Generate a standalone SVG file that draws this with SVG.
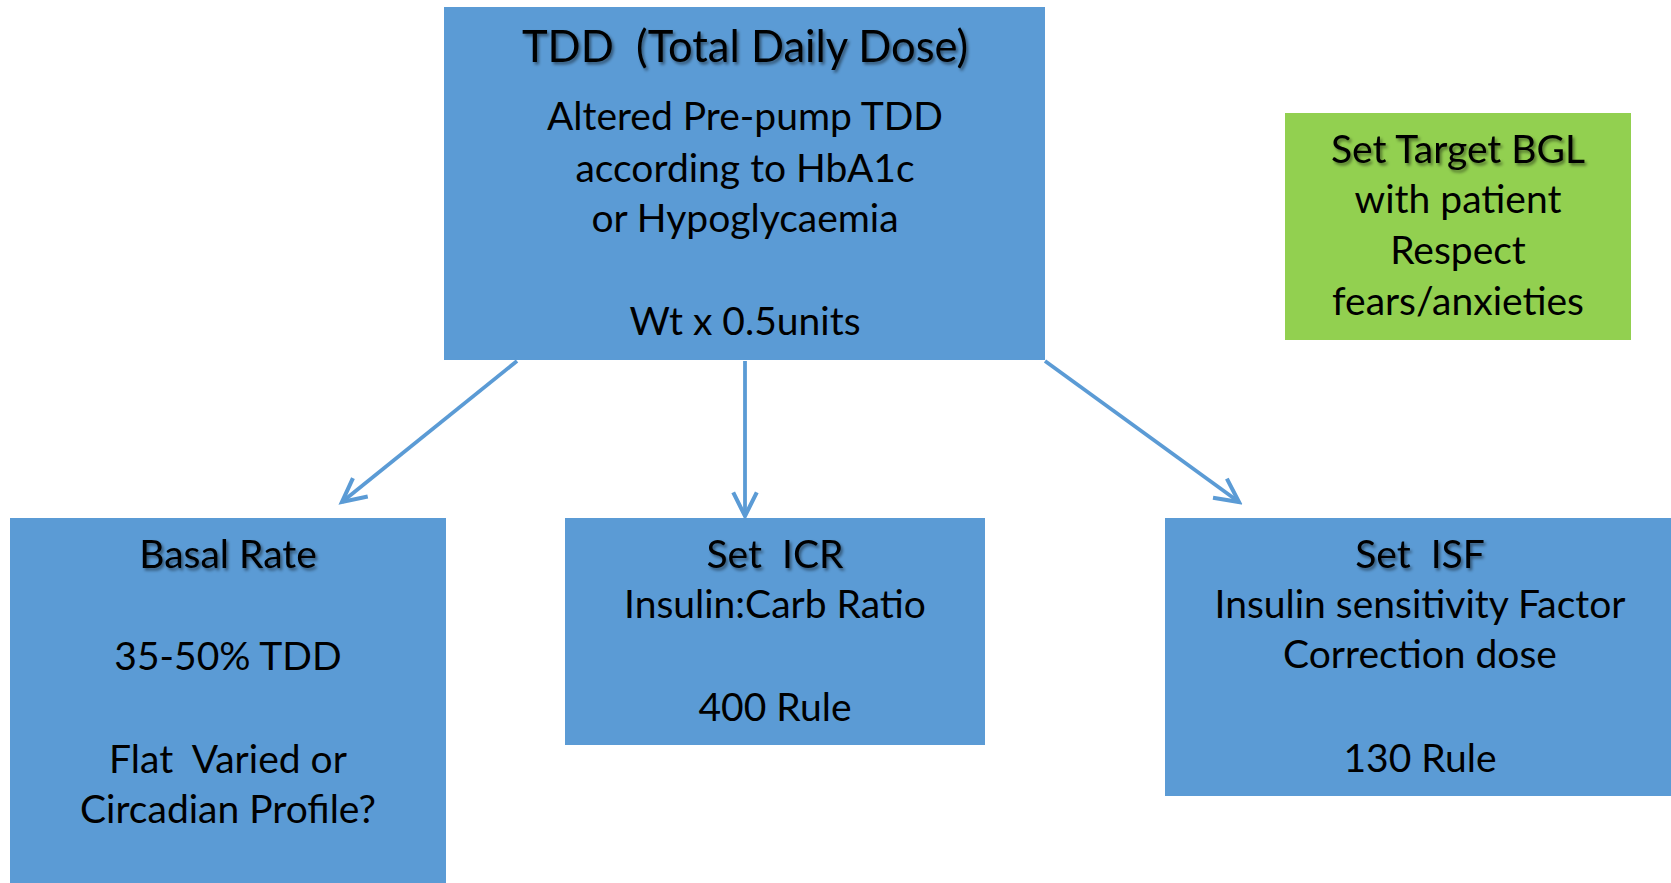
<svg xmlns="http://www.w3.org/2000/svg" width="1671" height="883" viewBox="0 0 1671 883">
<defs>
<filter id="sh" x="-10%" y="-30%" width="120%" height="160%">
<feDropShadow dx="2" dy="2.5" stdDeviation="1.6" flood-color="#000" flood-opacity="0.45"/>
</filter>
<marker id="arr" markerUnits="userSpaceOnUse" markerWidth="30" markerHeight="30" viewBox="-2 -2 28 26" refX="22" refY="11" orient="auto">
<path d="M0,0 L22,11 L0,22" fill="none" stroke="#5B9BD5" stroke-width="3.8" stroke-linejoin="miter"/>
</marker>
</defs>
<style>
.box{fill:#5B9BD5}
.grn{fill:#92D050}
text{font-family:Lato,"Liberation Sans",sans-serif;font-size:39px;fill:#000;text-anchor:middle}
.t{filter:url(#sh)}
.big{font-size:43.5px}
.conn{stroke:#5B9BD5;stroke-width:3.8;fill:none;marker-end:url(#arr)}
</style>
<rect width="1671" height="883" fill="#fff"/>
<g id="tdd">
<rect class="box" x="444" y="7" width="601" height="353"/>
<text class="t big" x="745" y="62" xml:space="preserve">TDD  (Total Daily Dose)</text>
<text x="745" y="130">Altered Pre-pump TDD</text>
<text x="745" y="182">according to HbA1c</text>
<text x="745" y="232">or Hypoglycaemia</text>
<text x="745" y="335">Wt x 0.5units</text>
</g>
<g id="target">
<rect class="grn" x="1285" y="113" width="346" height="227"/>
<text class="t" x="1458" y="163">Set Target BGL</text>
<text x="1458" y="213">with patient</text>
<text x="1458" y="264">Respect</text>
<text x="1458" y="315">fears/anxieties</text>
</g>
<g id="basal">
<rect class="box" x="10" y="518" width="436" height="370"/>
<text class="t" x="228" y="568">Basal Rate</text>
<text x="228" y="670">35-50% TDD</text>
<text x="228" y="773" xml:space="preserve">Flat  Varied or</text>
<text x="228" y="823">Circadian Profile?</text>
</g>
<g id="icr">
<rect class="box" x="565" y="518" width="420" height="227"/>
<text class="t" x="775" y="568" xml:space="preserve">Set  ICR</text>
<text x="775" y="618">Insulin:Carb Ratio</text>
<text x="775" y="721">400 Rule</text>
</g>
<g id="isf">
<rect class="box" x="1165" y="518" width="510" height="278"/>
<text class="t" x="1420" y="568" xml:space="preserve">Set  ISF</text>
<text x="1420" y="618">Insulin sensitivity Factor</text>
<text x="1420" y="668">Correction dose</text>
<text x="1420" y="772">130 Rule</text>
</g>
<g id="connectors">
<line class="conn" x1="517" y1="361" x2="342" y2="502"/>
<line class="conn" x1="745" y1="361" x2="745" y2="516"/>
<line class="conn" x1="1045" y1="361" x2="1239" y2="502"/>
</g>
</svg>
